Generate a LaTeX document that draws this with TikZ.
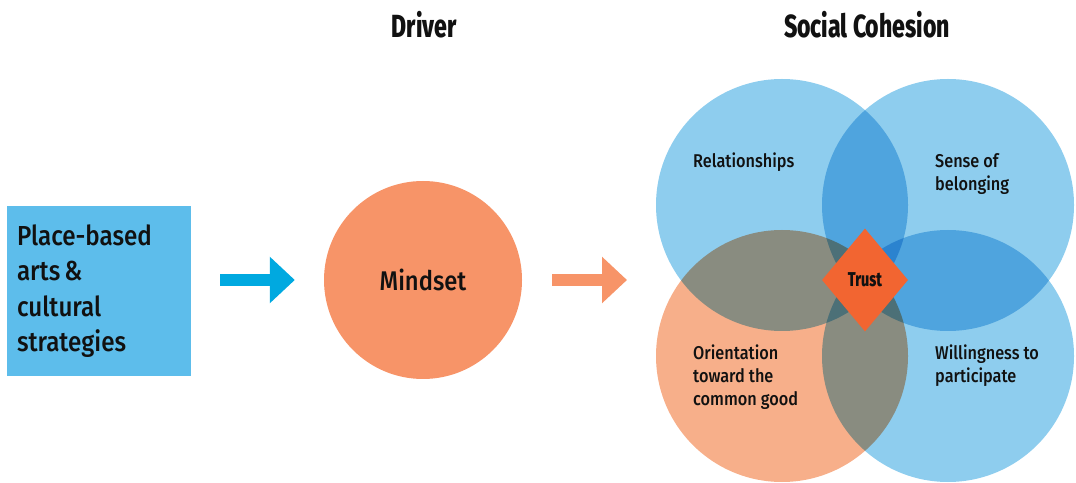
\documentclass[tikz,border=0pt]{standalone}
\usepackage{fontspec}
\setmainfont{Fira Sans Medium}[FakeStretch=0.88, BoldFont=Fira Sans Bold]
\newfontfamily\headfont{Fira Sans ExtraBold}[FakeStretch=0.72]
\usepackage{xcolor}
\usepackage{tikz}
\usetikzlibrary{arrows.meta,shapes,positioning}

\definecolor{boxblue}{HTML}{5DBDEB}
\definecolor{arrowblue}{HTML}{00A9E0}
\definecolor{mindorange}{HTML}{F79468}
\definecolor{vennblue}{HTML}{8ECDEE}
\definecolor{vennorange}{HTML}{F7AF8A}
\definecolor{trustorange}{HTML}{F26531}
\definecolor{ink}{HTML}{111111}

\tikzset{
  venn/.style={circle, minimum size=252pt, inner sep=0pt},
  vlabel/.style={anchor=base west, align=left, inner sep=0pt, text=ink,
    font=\fontsize{18.5}{23}\selectfont},
  title/.style={anchor=base, inner sep=0pt, text=ink,
    font=\headfont\fontsize{32}{32}\selectfont},
  fat/.style={line width=12pt, -{Triangle[length=25pt,width=45pt]}},
}

\begin{document}
\begin{tikzpicture}[x=1pt,y=1pt]
        \useasboundingbox (0,0) rectangle (1076,482);

        \node[title] (driver) at (424,444) {Driver};
        \node[title] (cohesion) at (867,444) {Social Cohesion};

        \node[fill=boxblue, minimum width=184pt, minimum height=170pt, text width=164pt,
              inner sep=10pt, align=left, text=ink, font=\fontsize{27.5}{35.5}\selectfont]
              (arts) at (99,191) {Place-based\\arts\hspace{4pt}\&\\cultural\\strategies};

        \node[circle, fill=mindorange, minimum size=198pt, inner sep=0pt, text=ink,
              font=\fontsize{27}{27}\selectfont] (mindset) at (423,202) {Mindset};

        \begin{scope}[blend group=multiply]
            \node[venn, fill=vennblue] (rel) at (782,277) {};
            \node[venn, fill=vennblue] (belong) at (948,277) {};
            \node[venn, fill=vennorange] (orient) at (782,126) {};
            \node[venn, fill=vennblue] (willing) at (948,126) {};
        \end{scope}

        \node[diamond, fill=trustorange, minimum width=86pt, minimum height=103pt,
              inner sep=0pt, text=ink, font=\headfont\fontsize{20}{20}\selectfont]
              (trust) at (865,202) {Trust};

        % anchor is the baseline of the last line
        \node[vlabel] (rel-text) at (693,314) {Relationships};
        \node[vlabel] (belong-text) at (935,291) {Sense of\\belonging};
        \node[vlabel] (orient-text) at (693,76) {Orientation\\toward the\\common good};
        \node[vlabel] (willing-text) at (935,99) {Willingness to\\participate};

        \coordinate (venn) at (657,202);
        \draw[fat, draw=arrowblue, shorten <=29pt, shorten >=29pt] (arts.east |- mindset) -- (mindset.west);
        \draw[fat, draw=mindorange, shorten <=30pt, shorten >=30pt] (mindset.east) -- (venn);

    \end{tikzpicture}
\end{document}
